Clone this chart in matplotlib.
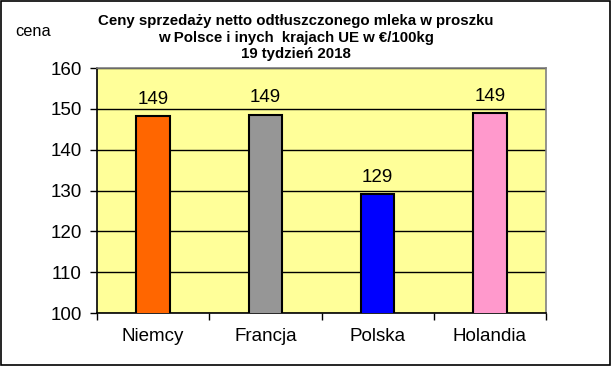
import numpy as np
import matplotlib.pyplot as plt
from matplotlib.patches import Rectangle

countries = ['Niemcy', 'Francja', 'Polska', 'Holandia']
prices = [148.3, 148.6, 129.2, 149.0]
labels = ['149', '149', '129', '149']
colors = ['#FF6600', '#969696', '#0000FF', '#FF99CC']

plt.rcParams['font.family'] = ['Liberation Sans', 'DejaVu Sans']

fig = plt.figure(figsize=(6.12, 3.66), dpi=100)
ax = fig.add_axes([97 / 612, 1 - 313 / 366, 449 / 612, 245 / 366])
ax.set_facecolor('#FFFF99')

x = np.arange(len(countries))
ax.bar(x, prices, width=0.3, color=colors, edgecolor='black', linewidth=1.5, zorder=3)
for xi, p, lab in zip(x, prices, labels):
    ax.text(xi, p + 4.1, lab, ha='center', va='center', fontsize=13.5, zorder=4)

ax.set_ylim(100, 160)
ax.set_xlim(-0.5, 3.5)
ax.set_yticks(range(100, 161, 10))
ax.yaxis.grid(True, color='black', linewidth=1, zorder=1)
ax.tick_params(axis='y', labelsize=13.5, length=5, direction='out', width=1, pad=6)

ax.set_xticks(x)
ax.set_xticklabels(countries, fontsize=13.5)
ax.tick_params(axis='x', length=0, pad=11)
ax.set_xticks(np.arange(-0.5, 4, 1), minor=True)
ax.tick_params(axis='x', which='minor', length=5, width=1, direction='out')

ax.spines['top'].set_color('#808080')
ax.spines['right'].set_color('#808080')
ax.spines['left'].set_color('black')
ax.spines['bottom'].set_color('black')
for s in ax.spines.values():
    s.set_linewidth(1.2)

tx = 295.5 / 612
fig.text(tx, 1 - 21 / 366, 'Ceny sprzedaży netto odtłuszczonego mleka w proszku',
         ha='center', va='center', fontsize=10.8, fontweight='bold')
fig.text(tx, 1 - 38 / 366, 'w Polsce i inych  krajach UE w €/100kg',
         ha='center', va='center', fontsize=10.8, fontweight='bold')
fig.text(tx, 1 - 54 / 366, '19 tydzień 2018',
         ha='center', va='center', fontsize=10.8, fontweight='bold')
fig.text(15 / 612, 1 - 32 / 366, 'cena', ha='left', va='center', fontsize=11.8)

fig.patches.append(Rectangle((0.001, 0.003), 0.995, 0.995, transform=fig.transFigure,
                             fill=False, edgecolor='black', linewidth=1.2))

fig.savefig('out.png', dpi=100)
